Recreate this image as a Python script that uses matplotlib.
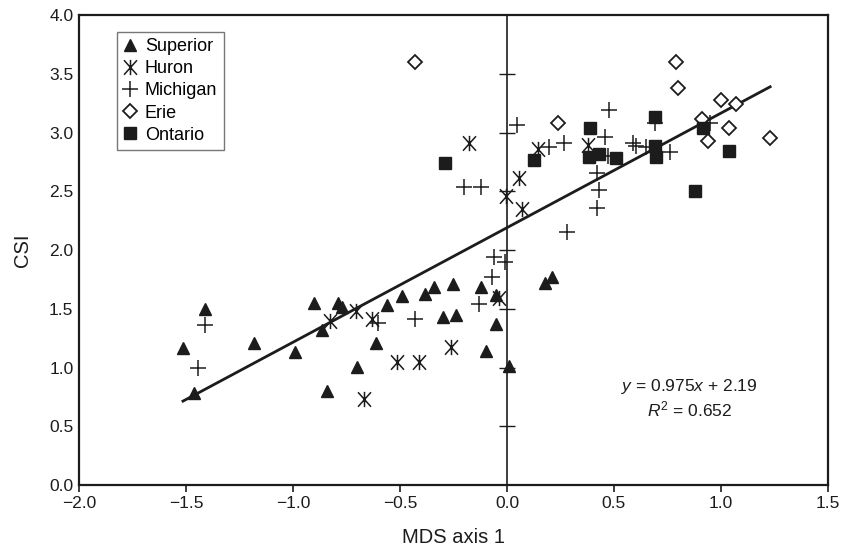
import numpy as np
import matplotlib.pyplot as plt
from matplotlib.path import Path

plt.rcParams['font.family'] = ['Liberation Sans', 'DejaVu Sans']
plt.rcParams['mathtext.fontset'] = 'custom'
plt.rcParams['mathtext.rm'] = 'Liberation Sans'
plt.rcParams['mathtext.it'] = 'Liberation Sans:italic'

# --- data (MDS axis 1, CSI) ---
superior_x = [-1.514, -1.409, -1.462, -1.182, -0.992, -0.903, -0.863, -0.841, -0.790,
              -0.770, -0.701, -0.611, -0.561, -0.491, -0.381, -0.342, -0.250, -0.120,
              -0.050, -0.300, -0.240, -0.050, -0.100, 0.008, 0.178, 0.209]
superior_y = [1.163, 1.498, 0.780, 1.206, 1.132, 1.546, 1.319, 0.803, 1.546,
              1.512, 1.007, 1.206, 1.529, 1.606, 1.625, 1.688, 1.711, 1.688,
              1.617, 1.427, 1.447, 1.370, 1.143, 1.013, 1.716, 1.768]

huron_x = [-0.826, -0.707, -0.670, -0.632, -0.512, -0.412, -0.261, -0.035,
           -0.179, -0.003, 0.058, 0.071, 0.146, 0.378]
huron_y = [1.399, 1.483, 0.732, 1.410, 1.043, 1.043, 1.172, 1.589,
           2.908, 2.457, 2.610, 2.347, 2.861, 2.890]

michigan_x = [-1.409, -1.442, -0.601, -0.432, -0.132, -0.072, -0.062, -0.008,
              0.281, -0.200, -0.120, 0.049, 0.195, 0.268, 0.475, 0.459, 0.419,
              0.429, 0.419, 0.587, 0.603, 0.651, 0.760, 0.950, 0.690, 0.470]
michigan_y = [1.362, 0.998, 1.378, 1.415, 1.543, 1.770, 1.940, 1.895,
              2.156, 2.537, 2.537, 3.064, 2.879, 2.915, 3.191, 2.959, 2.658,
              2.514, 2.355, 2.915, 2.885, 2.876, 2.831, 3.080, 3.080, 2.800]

erie_x = [-0.432, 0.238, 0.790, 0.801, 1.000, 1.070, 0.911, 1.039, 0.941, 1.229]
erie_y = [3.597, 3.084, 3.600, 3.376, 3.274, 3.243, 3.112, 3.035, 2.929, 2.956]

ontario_x = [-0.290, 0.128, 0.387, 0.382, 0.429, 0.509, 0.690, 0.692, 0.698,
             0.914, 1.039, 0.880]
ontario_y = [2.738, 2.763, 3.035, 2.790, 2.817, 2.780, 3.129, 2.886, 2.791,
             3.035, 2.844, 2.505]

slope, intercept = 0.975, 2.19
fit_range = [-1.514, 1.230]

x_ticks = [-2.0, -1.5, -1.0, -0.5, 0.0, 0.5, 1.0, 1.5]
y_ticks = [0.0, 0.5, 1.0, 1.5, 2.0, 2.5, 3.0, 3.5, 4.0]
inner_ticks = [0.5, 1.0, 1.5, 2.0, 2.5, 3.0, 3.5]

ink = '#1c1c1c'

# X with a vertical bar, like the Huron symbol
star = Path([(0, -1), (0, 1), (-0.85, -0.95), (0.85, 0.95), (-0.85, 0.95), (0.85, -0.95)],
            [Path.MOVETO, Path.LINETO] * 3)

fig = plt.figure(figsize=(8.42, 5.46), dpi=100)
ax = fig.add_axes([0.0938, 0.1117, 0.8895, 0.8608])

# regression line
fx = np.array(fit_range)
ax.plot(fx, slope * fx + intercept, color=ink, lw=2.0, zorder=2)

ax.plot(superior_x, superior_y, ls='none', marker='^', ms=9, color=ink,
        label='Superior', zorder=3)
ax.plot(huron_x, huron_y, ls='none', marker=star, ms=11, mew=1.1, color=ink,
        label='Huron', zorder=3)
ax.plot(michigan_x, michigan_y, ls='none', marker='+', ms=12, mew=1.1, color=ink,
        label='Michigan', zorder=3)
ax.plot(erie_x, erie_y, ls='none', marker='D', ms=7, mew=1.3, mfc='white', mec=ink,
        label='Erie', zorder=3)
ax.plot(ontario_x, ontario_y, ls='none', marker='s', ms=9, color=ink,
        label='Ontario', zorder=3)

ax.set_xlim(-2.0, 1.5)
ax.set_ylim(0.0, 4.0)
ax.set_xticks(x_ticks)
ax.set_yticks(y_ticks)
ax.set_xticklabels([f'{v:.1f}' if v >= 0 else f'\u2212{abs(v):.1f}' for v in x_ticks])
ax.set_yticklabels([f'{v:.1f}' for v in y_ticks])
ax.tick_params(axis='x', direction='out', length=5, width=1.2, labelsize=12.5,
               colors=ink, pad=3)
ax.tick_params(axis='y', length=0, labelsize=12.5, colors=ink, pad=4)
for sp in ax.spines.values():
    sp.set_linewidth(1.6)
    sp.set_color(ink)

# vertical reference axis through x = 0 with its own ticks
sec = ax.secondary_yaxis(0, transform=ax.transData)
sec.set_yticks(inner_ticks)
sec.tick_params(direction='inout', length=12, width=1.0, labelleft=False, colors=ink)
sec.spines['left'].set_linewidth(1.2)
sec.spines['left'].set_color(ink)

ax.set_xlabel('MDS axis 1', fontsize=14.5, color=ink, labelpad=12)
ax.set_ylabel('CSI', fontsize=14.5, color=ink, labelpad=12)

ax.text(0.852, 0.837, r'$y$ = 0.975$x$ + 2.19', ha='center', va='center',
        fontsize=12.5, color=ink)
ax.text(0.852, 0.64, r'$R^{2}$ = 0.652', ha='center', va='center',
        fontsize=12.5, color=ink)

leg = ax.legend(loc='upper left', bbox_to_anchor=(0.0507, 0.9638), borderaxespad=0,
                fontsize=13, handlelength=0.8, handletextpad=0.4, labelspacing=0.28,
                borderpad=0.35, fancybox=False, frameon=True, numpoints=1)
leg.get_frame().set_edgecolor('#555555')
leg.get_frame().set_linewidth(1.0)

fig.savefig('out.png', dpi=100)
